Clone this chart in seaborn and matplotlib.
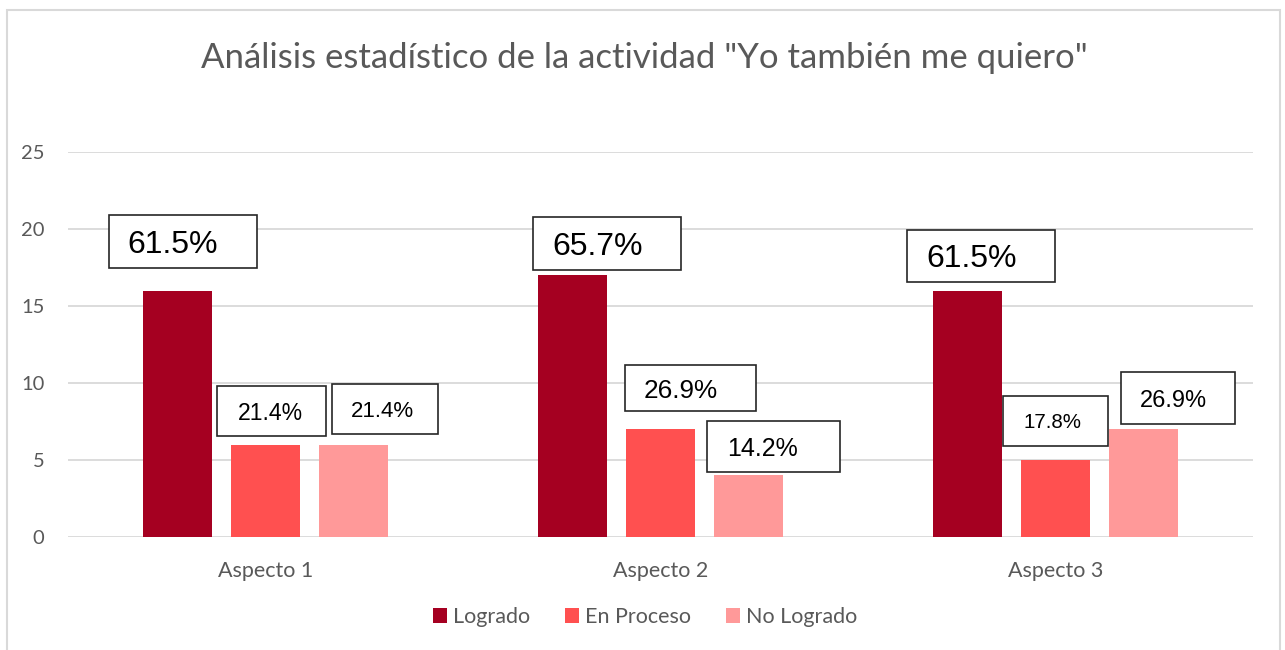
import pandas as pd
import seaborn as sns
import matplotlib.pyplot as plt
from matplotlib.patches import Rectangle

# datos de la actividad
aspectos = ["Aspecto 1", "Aspecto 2", "Aspecto 3"]
estados = ["Logrado", "En Proceso", "No Logrado"]
logrado = [16, 17, 16]
en_proceso = [6, 7, 5]
no_logrado = [6, 4, 7]
pct_logrado = ["61.5%", "65.7%", "61.5%"]
pct_en_proceso = ["21.4%", "26.9%", "17.8%"]
pct_no_logrado = ["21.4%", "14.2%", "26.9%"]

colores = ["#A50021", "#FF5050", "#FF9999"]
gris = "#595959"

df = pd.DataFrame({
    "aspecto": aspectos * 3,
    "estado": [e for e in estados for _ in aspectos],
    "valor": logrado + en_proceso + no_logrado,
})

sns.set_style("white")
plt.rcParams["font.family"] = ["Lato", "DejaVu Sans"]

fig = plt.figure(figsize=(12.85, 6.5), dpi=100)
ax = fig.add_axes([68 / 1285, 113 / 650, 1185 / 1285, 385 / 650])

sns.barplot(df, x="aspecto", y="valor", hue="estado", palette=colores,
            width=0.668, gap=0.215, saturation=1, linewidth=0, ax=ax)

ax.set_ylim(0, 25)
ax.set_xlim(-0.5, 2.5)
ax.set_yticks([0, 5, 10, 15, 20, 25])
ax.yaxis.grid(True, color="#D9D9D9", lw=1.3)
ax.set_axisbelow(True)
sns.despine(ax=ax, left=True, right=True, top=True, bottom=True)
ax.tick_params(axis="y", length=0, pad=17, labelsize=14.5, labelcolor=gris)
ax.tick_params(axis="x", length=0, pad=17, labelsize=15.5, labelcolor=gris)
ax.set_xlabel("")
ax.set_ylabel("")

# cajas de porcentaje (posicion relativa al centro de cada barra)
# (izq, der, abajo, arriba, x_texto, tamano)
cajas = [
    [(-0.173, 0.201, 17.47, 20.91, -0.128, 23),
     (-0.100, 0.275, 17.34, 20.78, -0.052, 23),
     (-0.153, 0.222, 16.56, 19.94, -0.105, 23)],
    [(-0.124, 0.152, 6.56, 9.81, -0.071, 16.6),
     (-0.091, 0.243, 8.18, 11.17, -0.043, 18.8),
     (-0.134, 0.132, 5.91, 9.16, -0.081, 14.8)],
    [(-0.054, 0.214, 6.69, 9.94, -0.006, 16),
     (-0.104, 0.233, 4.22, 7.53, -0.053, 18),
     (-0.058, 0.233, 7.34, 10.71, -0.010, 17)],
]
etiquetas = [pct_logrado, pct_en_proceso, pct_no_logrado]

for i, cont in enumerate(ax.containers):
    for j, bar in enumerate(cont):
        xc = bar.get_x() + bar.get_width() / 2
        l, r, b, t, tx, fs = cajas[i][j]
        ax.add_patch(Rectangle((xc + l, b), r - l, t - b, fill=True,
                               fc="white", ec="#262626", lw=1.2, zorder=5,
                               clip_on=False))
        ax.text(xc + tx, (b + t) / 2, etiquetas[i][j], fontsize=fs,
                family=["Liberation Sans", "DejaVu Sans"], color="black",
                ha="left", va="center_baseline", zorder=6)

handles, labels = ax.get_legend_handles_labels()
ax.legend(handles, labels, loc="center", bbox_to_anchor=(645 / 1285, 1 - 617 / 650),
          bbox_transform=fig.transFigure, ncol=3, frameon=False,
          handlelength=0.65, handleheight=0.65, handletextpad=0.3,
          columnspacing=1.6, fontsize=15.5, labelcolor=gris)

fig.text(644 / 1285, 1 - 58 / 650,
         "Análisis estadístico de la actividad \"Yo también me quiero\"",
         ha="center", va="center", fontsize=25, color=gris)

fig.patches.append(Rectangle((7 / 1285, -0.1), 1273 / 1285, 640 / 650 + 0.1,
                             transform=fig.transFigure, fill=False,
                             ec="#D9D9D9", lw=1.5))

fig.savefig("out.png", dpi=100)
